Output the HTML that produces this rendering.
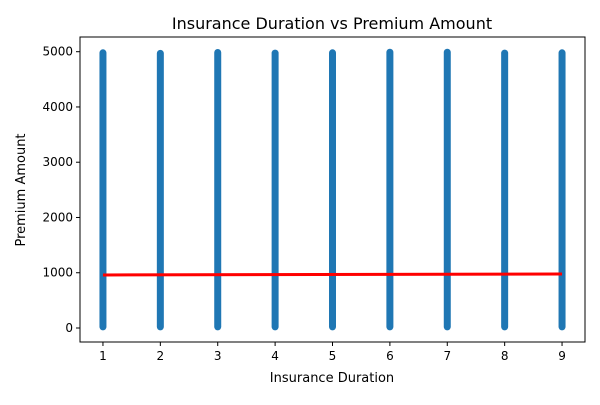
<!DOCTYPE html>
<html><head><meta charset="utf-8"><style>
body{margin:0;background:#fff;font-family:"Liberation Sans",sans-serif}
svg text{font-family:"DejaVu Sans","Liberation Sans",sans-serif;fill:#000}
</style></head><body>
<svg id="chart" width="600" height="400"></svg>
<script>
const durations=[1,2,3,4,5,6,7,8,9];
const minPremium=[20,20,20,20,20,20,20,20,20];
const maxPremium=[4980,4970,4985,4975,4980,4990,4990,4975,4980];
const trendX=[1,9];
const trendY=[960,977];
const xTicks=[1,2,3,4,5,6,7,8,9];
const yTicks=[0,1000,2000,3000,4000,5000];
const L=80,R=585,T=37,B=342;
const x=v=>L+(v-0.6)/8.8*(R-L);
const y=v=>328-v*0.05526;
const svg=document.getElementById('chart');
const NS='http://www.w3.org/2000/svg';
function mk(t,a){const e=document.createElementNS(NS,t);for(const k in a)e.setAttribute(k,a[k]);svg.appendChild(e);return e;}
let e=mk('text',{x:332,y:29,'font-size':16,'text-anchor':'middle'});e.textContent='Insurance Duration vs Premium Amount';


durations.forEach((d,i)=>{
  const r=mk('line',{x1:x(d),x2:x(d),y1:y(maxPremium[i]),y2:y(minPremium[i]),stroke:'#1f77b4','stroke-width':7,'stroke-linecap':'round'});
  
  
});
const tl=mk('line',{x1:x(trendX[0]),x2:x(trendX[1]),y1:y(trendY[0]),y2:y(trendY[1]),stroke:'#ff0000','stroke-width':3});


const fr=mk('rect',{x:L,y:T,width:R-L,height:B-T,fill:'none',stroke:'#000','stroke-width':1});


xTicks.forEach(t=>{
  mk('line',{x1:x(t),x2:x(t),y1:B,y2:B+4,stroke:'#000'});
  const tx=mk('text',{x:x(t),y:B+18,'font-size':12,'text-anchor':'middle'});tx.textContent=t;
  
  
});
yTicks.forEach(t=>{
  mk('line',{x1:L-4,x2:L,y1:y(t),y2:y(t),stroke:'#000'});
  const tx=mk('text',{x:L-7,y:y(t)+4,'font-size':12,'text-anchor':'end'});tx.textContent=t;
  
  
});
e=mk('text',{x:332,y:382,'font-size':13,'text-anchor':'middle'});e.textContent='Insurance Duration';


e=mk('text',{x:0,y:0,'font-size':13,'text-anchor':'middle',transform:'translate(25,190) rotate(-90)'});e.textContent='Premium Amount';


</script>
</body></html>
